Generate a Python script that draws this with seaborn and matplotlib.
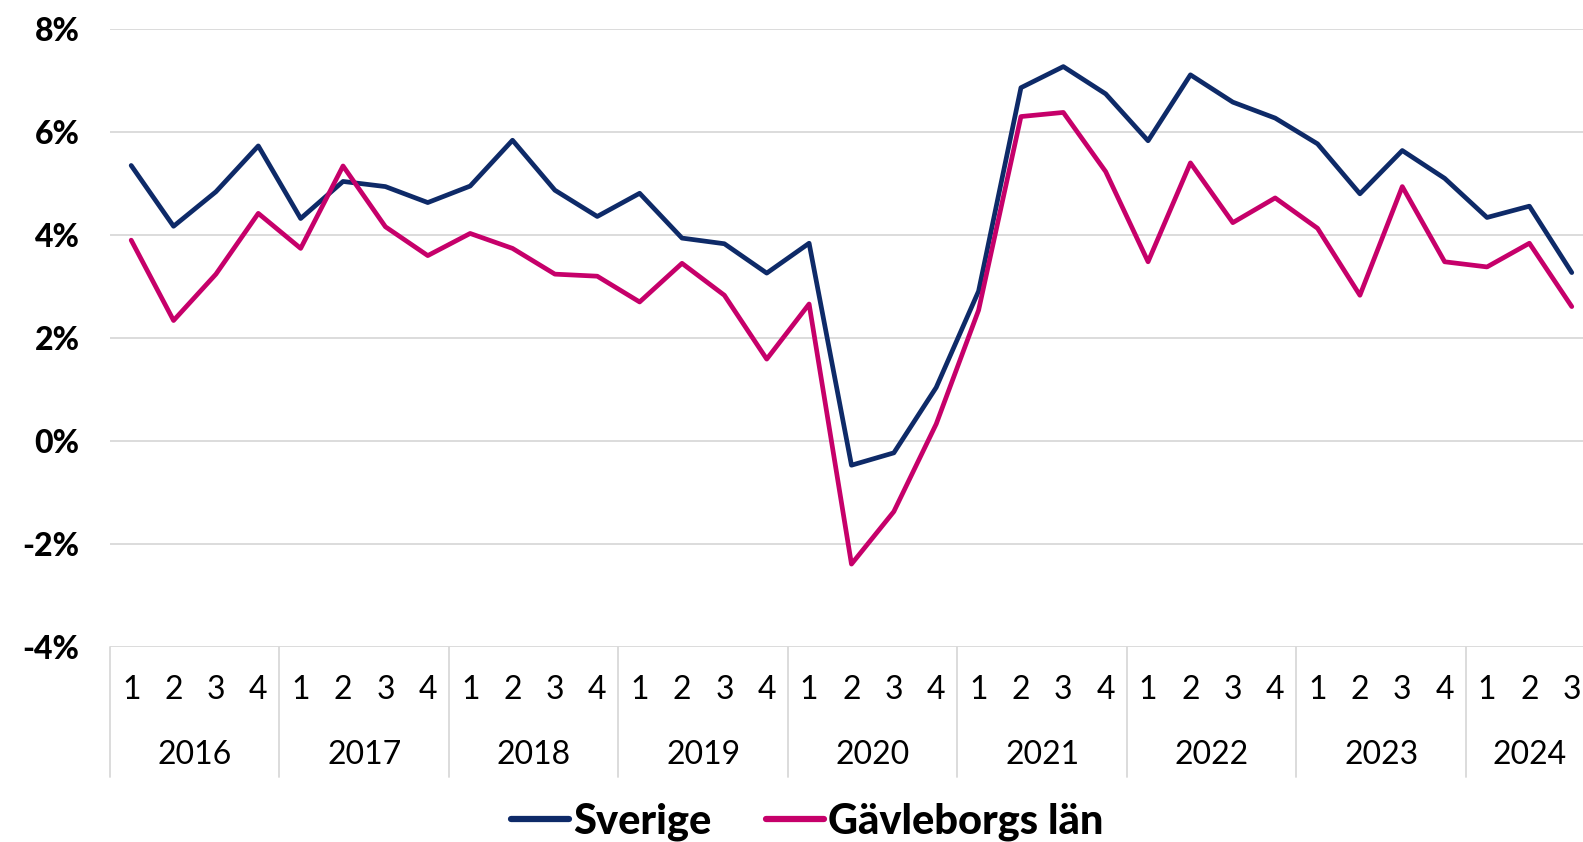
import numpy as np
import pandas as pd
import matplotlib
matplotlib.use("Agg")
import matplotlib.pyplot as plt
import seaborn as sns

years = ["2016", "2017", "2018", "2019", "2020", "2021", "2022", "2023", "2024"]
quarters = ["1", "2", "3", "4"] * 8 + ["1", "2", "3"]

sverige = [5.35, 4.17, 4.84, 5.73,
           4.32, 5.04, 4.94, 4.63,
           4.95, 5.84, 4.87, 4.36,
           4.81, 3.94, 3.83, 3.26,
           3.84, -0.47, -0.23, 1.04,
           2.91, 6.86, 7.27, 6.74,
           5.83, 7.11, 6.58, 6.27,
           5.77, 4.80, 5.64, 5.10,
           4.34, 4.56, 3.27]

gavleborg = [3.90, 2.34, 3.24, 4.42,
             3.74, 5.34, 4.16, 3.60,
             4.03, 3.74, 3.24, 3.20,
             2.70, 3.45, 2.83, 1.59,
             2.66, -2.39, -1.37, 0.33,
             2.54, 6.30, 6.38, 5.23,
             3.48, 5.40, 4.24, 4.72,
             4.13, 2.83, 4.94, 3.48,
             3.38, 3.84, 2.61]

series_names = ["Sverige", "Gävleborgs län"]
colors = ["#0E2A68", "#C6006A"]
yticks = [-4, -2, 0, 2, 4, 6, 8]

n = len(sverige)
df = pd.DataFrame({
    "idx": list(range(n)) * 2,
    "value": sverige + gavleborg,
    "serie": [series_names[0]] * n + [series_names[1]] * n,
})

sns.set_theme(style="white")
plt.rcParams["font.family"] = ["Lato", "DejaVu Sans"]

W, H = 1583, 842
fig = plt.figure(figsize=(W / 100, H / 100), dpi=100)
left_px, right_px = 110, 110 + 35 * 42.37
bottom_px, top_px = 842 - 647, 842 - 29
ax = fig.add_axes([left_px / W, bottom_px / H, (right_px - left_px) / W, (top_px - bottom_px) / H])

sns.lineplot(data=df, x="idx", y="value", hue="serie", palette=colors,
             hue_order=series_names, linewidth=3.4, ax=ax, legend=False, sort=False)

ax.set_xlim(-0.5, n - 0.5)
ax.set_ylim(-4, 8)
ax.set_yticks(yticks)
ax.set_yticklabels([f"{t}%" for t in yticks], fontsize=23, fontweight="black", color="black")
ax.tick_params(axis="y", length=0, pad=22)
ax.set_xticks([])
ax.set_xlabel("")
ax.set_ylabel("")
for s in ax.spines.values():
    s.set_visible(False)
for t in yticks:
    ax.axhline(t, color="#D9D9D9", linewidth=1.3, zorder=0)

trans = ax.get_xaxis_transform()
ah = top_px - bottom_px
y_q = (842 - 690 - bottom_px) / ah
y_y = (842 - 755 - bottom_px) / ah
y_sep = (842 - 777 - bottom_px) / ah
for i, q in enumerate(quarters):
    ax.text(i, y_q, q, transform=trans, ha="center", va="center",
            fontsize=23, fontweight="normal", color="black", clip_on=False)
for k, yr in enumerate(years):
    start = 4 * k
    end = min(4 * k + 4, n)
    center = (start + end - 1) / 2
    ax.text(center, y_y, yr, transform=trans, ha="center", va="center",
            fontsize=23, fontweight="normal", color="black", clip_on=False)
    ax.plot([start - 0.5, start - 0.5], [0, y_sep], transform=trans, color="#D9D9D9",
            linewidth=1.3, clip_on=False)

handles = [plt.Line2D([], [], color=c, linewidth=4.5, solid_capstyle="round") for c in colors]
fig.legend(handles, series_names, loc="center", bbox_to_anchor=(0.51, 20 / H), ncol=2,
           frameon=False, prop={"size": 30, "weight": "black"}, handlelength=1.4,
           handletextpad=0.1, columnspacing=1.3, borderaxespad=0, borderpad=0,
           labelcolor="black")

fig.savefig("out.png", dpi=100, facecolor="white")
